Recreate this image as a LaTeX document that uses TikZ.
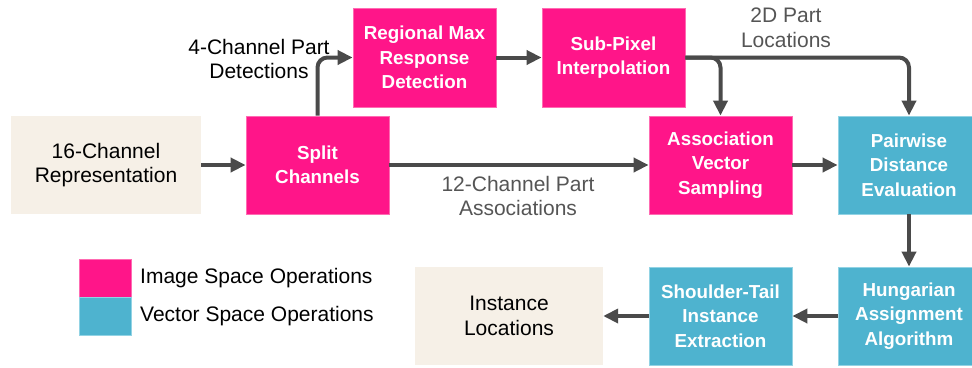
\documentclass[tikz,border=0pt]{standalone}
\usepackage{fontspec}
\setmainfont{Liberation Sans}
\usetikzlibrary{arrows.meta}
\definecolor{pinkop}{HTML}{FF1589}
\definecolor{pinkbd}{HTML}{FF6BB2}
\definecolor{blueop}{HTML}{4EB3CF}
\definecolor{bluebd}{HTML}{92D3E4}
\definecolor{beige}{HTML}{F6F0E7}
\definecolor{arrowc}{HTML}{4A4A4A}
\definecolor{labgray}{HTML}{555555}
\tikzset{
  box/.style={inner sep=0pt, align=center, font=\fontsize{18.8}{24.5}\selectfont\bfseries, text=white, line width=0.8pt},
  imgop/.style={box, fill=pinkop, draw=pinkbd},
  vecop/.style={box, fill=blueop, draw=bluebd},
  datab/.style={inner sep=0pt, align=center, fill=beige, font=\fontsize{21}{24.5}\selectfont, text=black},
  lab/.style={align=center, inner sep=0pt, font=\fontsize{21}{24.5}\selectfont},
  leg/.style={inner sep=0pt, anchor=west, font=\fontsize{21}{24.5}\selectfont},
  conn/.style={draw=arrowc, line width=4pt, rounded corners=10pt, -{Triangle[length=15pt,width=14pt]}},
}
\begin{document}
\begin{tikzpicture}[x=1pt,y=-1pt]
\useasboundingbox (0,0) rectangle (972,367);
\begin{scope}
\clip (0,0) rectangle (972,367);
\node[datab, minimum width=190pt, minimum height=98pt] (rep) at (106,165) {16-Channel\\Representation};
\node[imgop, minimum width=143pt, minimum height=98pt] (split) at (317.5,165) {Split\\Channels};
\node[imgop, minimum width=143pt, minimum height=99pt] (rmax) at (424.5,57.5) {Regional Max\\Response\\Detection};
\node[imgop, minimum width=143pt, minimum height=99pt] (subpix) at (613.5,57.5) {Sub-Pixel\\Interpolation};
\node[imgop, minimum width=143pt, minimum height=98pt] (assoc) at (720.5,165) {Association\\Vector\\Sampling};
\node[vecop, minimum width=142pt, minimum height=98pt] (pair) at (909,165) {Pairwise\\Distance\\Evaluation};
\node[vecop, minimum width=142pt, minimum height=98pt] (hung) at (909,316) {Hungarian\\Assignment\\Algorithm};
\node[vecop, minimum width=143pt, minimum height=98pt] (shoulder) at (720.5,316) {Shoulder-Tail\\Instance\\Extraction};
\node[datab, minimum width=188pt, minimum height=98pt] (inst) at (509,316) {Instance\\Locations};
\end{scope}

% legend
\node[fill=pinkop, draw=pinkbd, line width=0.8pt, minimum width=52pt, minimum height=38pt, inner sep=0pt] (legp) at (105,278) {};
\node[fill=blueop, draw=bluebd, line width=0.8pt, minimum width=52pt, minimum height=38pt, inner sep=0pt] (legb) at (105,316) {};
\node[leg] (legpt) at (140,278) {Image Space Operations};
\node[leg] (legbt) at (140,316) {Vector Space Operations};

% labels
\node[lab, text=black] (l4) at (259,59) {4-Channel Part\\Detections};
\node[lab, text=labgray] (l2d) at (786,28) {2D Part\\Locations};
\node[lab, text=labgray] (l12) at (518,196) {12-Channel Part\\Associations};

% connectors
\draw[conn] (rep.east) -- (split.west);
\draw[conn] (split.north) -- (split.north |- rmax.west) -- (rmax.west);
\draw[conn] (rmax.east) -- (subpix.west);
\draw[conn] (subpix.east) -- (assoc.north |- subpix.east) -- (assoc.north);
\draw[conn] (subpix.east) -- (pair.north |- subpix.east) -- (pair.north);
\draw[conn] (split.east) -- (assoc.west);
\draw[conn] (assoc.east) -- (pair.west);
\draw[conn] (pair.south) -- (hung.north);
\draw[conn] (hung.west) -- (shoulder.east);
\draw[conn] (shoulder.west) -- (inst.east);
\end{tikzpicture}
\end{document}
